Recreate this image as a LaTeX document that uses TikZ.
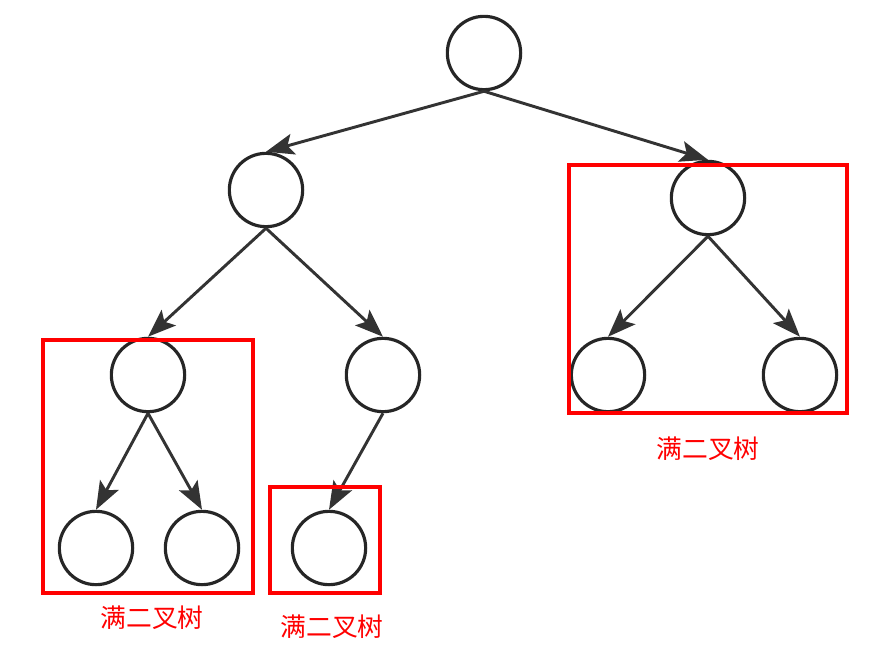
\documentclass[tikz,border=0pt]{standalone}
\usepackage{fontspec}
\newfontfamily\cjk{Noto Sans CJK SC}
\usepackage{tikz}
\usetikzlibrary{positioning, arrows.meta}
\definecolor{linegray}{HTML}{333333}
\tikzstyle{arrow} = [line width=2.5pt, draw=linegray, -{Stealth[length=24pt, width=18pt, inset=5pt]}]
\tikzstyle{tnode} = [circle, draw=black!85, line width=2.7pt, minimum size=2.2cm, inner sep=0pt]
\tikzstyle{fullbox} = [draw=red, line width=3pt]
\tikzstyle{fulltext} = [text=red, font=\cjk\fontsize{22}{24}\selectfont]

\begin{document}
\begin{tikzpicture}[node distance=4cm, on grid]
		\useasboundingbox (0,0) rectangle (26.4,-19.65);
		\node (root) [tnode] at (14.52,-1.59) {};
		\node (l) [tnode, below left=4.11cm and 6.54cm of root] {};
		\node (r) [tnode, below right=4.35cm and 6.72cm of root] {};
		\draw [arrow] (root.south) -- (l.north);
		\draw [arrow] (root.south) -- (r.north);
		\node (ll) [tnode, below left=5.55cm and 3.54cm of l] {};
		\node (lr) [tnode, below right=5.55cm and 3.51cm of l] {};
		\draw [arrow] (l.south) -- (ll.north);
		\draw [arrow] (l.south) -- (lr.north);
		\node (lll) [tnode, below left=5.19cm and 1.56cm of ll] {};
		\node (llr) [tnode, below right=5.19cm and 1.62cm of ll] {};
		\draw [arrow] (ll.south) -- (lll.north);
		\draw [arrow] (ll.south) -- (llr.north);
		\node (lrl) [tnode, below left=5.19cm and 1.62cm of lr] {};
		\draw [arrow] (lr.south) -- (lrl.north);
		\node (rl) [tnode, below left=5.31cm and 3.0cm of r] {};
		\node (rr) [tnode, below right=5.31cm and 2.76cm of r] {};
		\draw [arrow] (r.south) -- (rl.north);
		\draw [arrow] (r.south) -- (rr.north);
		% full binary subtrees
		\draw [fullbox] (1.29,-10.20) rectangle (7.59,-17.79);
		\draw [fullbox] (8.10,-14.61) rectangle (11.40,-17.79);
		\draw [fullbox] (17.07,-4.95) rectangle (25.41,-12.39);
		\node (lbl1) [fulltext] at (4.56,-18.54) {满二叉树};
		\node (lbl2) [fulltext] at (9.96,-18.81) {满二叉树};
		\node (lbl3) [fulltext] at (21.24,-13.47) {满二叉树};
\end{tikzpicture}
\end{document}
